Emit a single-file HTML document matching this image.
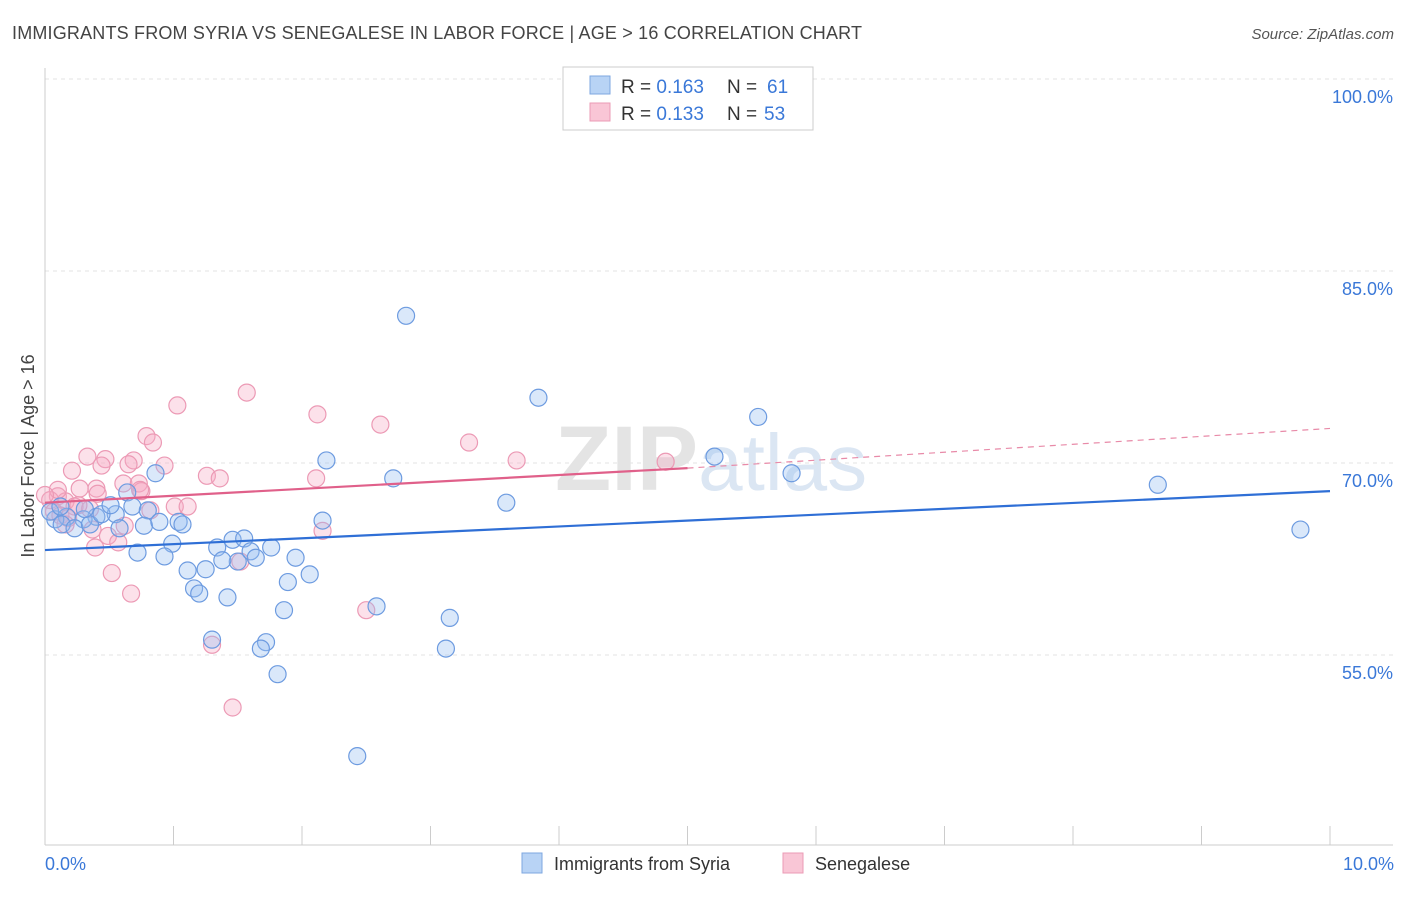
<!DOCTYPE html>
<html><head><meta charset="utf-8"><style>
body{margin:0;background:#fff;font-family:"Liberation Sans",sans-serif;}
svg text{font-family:"Liberation Sans",sans-serif;}
</style></head><body>
<svg id="chart" width="1406" height="892" viewBox="0 0 1406 892" xmlns="http://www.w3.org/2000/svg">
<text x="12" y="39" font-size="18" fill="#444" textLength="850">IMMIGRANTS FROM SYRIA VS SENEGALESE IN LABOR FORCE | AGE &gt; 16 CORRELATION CHART</text>
<text x="1394" y="39" font-size="15" fill="#555" text-anchor="end" font-style="italic">Source: ZipAtlas.com</text>
<text x="555" y="490" font-size="92" fill="#e4e4e4" font-family="Liberation Serif" font-weight="bold">ZIP<tspan fill="#dbe6f3" font-family="Liberation Sans" font-weight="normal" font-size="80">atlas</tspan></text>
<g id="grid"></g>
<g id="axes"></g>
<g id="points"></g>
<g id="trends"></g>
<text transform="translate(34,456) rotate(-90)" font-size="18" fill="#444" text-anchor="middle">In Labor Force | Age &gt; 16</text>
<text x="45" y="870" font-size="18" fill="#3a78d8">0.0%</text>
<text x="1394" y="870" font-size="18" fill="#3a78d8" text-anchor="end">10.0%</text>
<g>
<rect x="563" y="67" width="250" height="63" fill="#fff" stroke="#ccc"/>
<rect x="590" y="76" width="20" height="18" fill="#b8d3f5" stroke="#7ea7e0"/>
<rect x="590" y="103" width="20" height="18" fill="#f9c6d6" stroke="#eb9bb5"/>
<text x="621" y="93" font-size="19" fill="#333">R = <tspan fill="#3a78d8">0.163</tspan></text>
<text x="727" y="93" font-size="19" fill="#333">N = </text>
<text x="767" y="93" font-size="19" fill="#3a78d8">61</text>
<text x="621" y="120" font-size="19" fill="#333">R = <tspan fill="#3a78d8">0.133</tspan></text>
<text x="727" y="120" font-size="19" fill="#333">N = </text>
<text x="764" y="120" font-size="19" fill="#3a78d8">53</text>
</g>
<g>
<rect x="522" y="853" width="20" height="20" fill="#b8d3f5" stroke="#7ea7e0"/>
<text x="554" y="870" font-size="18" fill="#333">Immigrants from Syria</text>
<rect x="783" y="853" width="20" height="20" fill="#f9c6d6" stroke="#eb9bb5"/>
<text x="815" y="870" font-size="18" fill="#333">Senegalese</text>
</g>
</svg>
<script>
const yTicks=[100,85,70,55];
const yTickLabels=["100.0%","85.0%","70.0%","55.0%"];
const xTicks=[0,1,2,3,4,5,6,7,8,9,10];
const syriaX=[2.81,3.84,5.55,2.19,5.21,5.81,2.71,8.66,3.59,9.77,0.86,0.64,0.68,0.80,0.55,0.40,0.30,0.17,0.08,0.04,0.13,0.23,0.35,0.44,0.58,0.77,0.89,1.04,1.07,0.99,0.93,0.72,1.34,1.46,1.55,1.60,1.64,1.50,1.38,1.76,1.95,2.16,1.11,1.25,1.16,1.20,1.42,1.89,2.06,1.86,2.58,3.15,1.30,1.72,1.68,3.12,1.81,2.43,0.51,0.12,0.31];
const syriaY=[81.5,75.1,73.6,70.2,70.5,69.2,68.8,68.3,66.9,64.8,69.2,67.7,66.6,66.3,66.0,65.8,65.6,65.8,65.6,66.2,65.2,64.9,65.2,66.0,64.9,65.1,65.4,65.4,65.2,63.7,62.7,63.0,63.4,64.0,64.1,63.1,62.6,62.3,62.4,63.4,62.6,65.5,61.6,61.7,60.2,59.8,59.5,60.7,61.3,58.5,58.8,57.9,56.2,56.0,55.5,55.5,53.5,47.1,66.7,66.6,66.4];
const senX=[1.57,1.03,2.12,2.61,3.30,0.79,0.84,0.33,0.47,0.69,0.44,0.21,0.93,0.65,3.67,4.83,1.26,1.36,2.11,0.61,0.73,0.40,0.75,0.27,0.41,0.10,0.04,0.16,0.23,0.35,1.01,1.11,0.07,0.12,0.18,0.62,0.37,0.49,0.57,0.39,2.16,1.52,0.52,0.67,2.50,1.30,1.46,0.16,0.26,0.82,0.74,0.10,0.00];
const senY=[75.5,74.5,73.8,73.0,71.6,72.1,71.6,70.5,70.3,70.2,69.8,69.4,69.8,69.9,70.2,70.1,69.0,68.8,68.8,68.4,68.4,68.0,67.8,68.0,67.6,67.4,67.1,67.0,66.6,66.4,66.6,66.6,66.2,65.9,65.7,65.1,64.8,64.3,63.8,63.4,64.7,62.3,61.4,59.8,58.5,55.8,50.9,65.2,66.7,66.3,67.9,67.9,67.5];
const syriaTrend=[63.2,67.8];
const senTrend=[66.9,69.6,72.7];

const NS="http://www.w3.org/2000/svg";
const X=v=>45+v*128.5;
const Y=v=>79+(100-v)*12.8;
function mk(tag,attrs,parent){const e=document.createElementNS(NS,tag);for(const k in attrs)e.setAttribute(k,attrs[k]);parent.appendChild(e);return e;}
const grid=document.getElementById('grid'),axes=document.getElementById('axes'),pts=document.getElementById('points'),tr=document.getElementById('trends');
yTicks.forEach((t,i)=>{
 const l=mk('line',{x1:45,x2:1393,y1:Y(t),y2:Y(t),stroke:'#e3e3e3','stroke-dasharray':'4,4'},grid);
 
 
 const tx=mk('text',{x:1393,y:Y(t)+24,'font-size':18,fill:'#3a78d8','text-anchor':'end'},grid);
 tx.textContent=yTickLabels[i];
 
 
});
const ya=mk('line',{x1:45,x2:45,y1:68,y2:845,stroke:'#ccc'},axes);


const xa=mk('line',{x1:45,x2:1393,y1:845,y2:845,stroke:'#ccc'},axes);


xTicks.forEach(t=>{
 const l=mk('line',{x1:X(t),x2:X(t),y1:826,y2:845,stroke:'#ccc'},axes);
 
 
});
senX.forEach((x,i)=>{
 const c=mk('circle',{cx:X(x),cy:Y(senY[i]),r:8.5,fill:'rgba(245,170,195,0.35)',stroke:'#ec9ab5','stroke-width':1.2},pts);
 
 
});
syriaX.forEach((x,i)=>{
 const c=mk('circle',{cx:X(x),cy:Y(syriaY[i]),r:8.5,fill:'rgba(150,190,240,0.35)',stroke:'#6d9be0','stroke-width':1.2},pts);
 
 
});
const bl=mk('line',{x1:X(0),y1:Y(syriaTrend[0]),x2:X(10),y2:Y(syriaTrend[1]),stroke:'#2f6fd6','stroke-width':2.2},tr);


const pl=mk('line',{x1:X(0),y1:Y(senTrend[0]),x2:X(5),y2:Y(senTrend[1]),stroke:'#e0608a','stroke-width':2.2},tr);


const pd=mk('line',{x1:X(5),y1:Y(senTrend[1]),x2:X(10),y2:Y(senTrend[2]),stroke:'#e88aa8','stroke-width':1.2,'stroke-dasharray':'6,5'},tr);


</script>
</body></html>
